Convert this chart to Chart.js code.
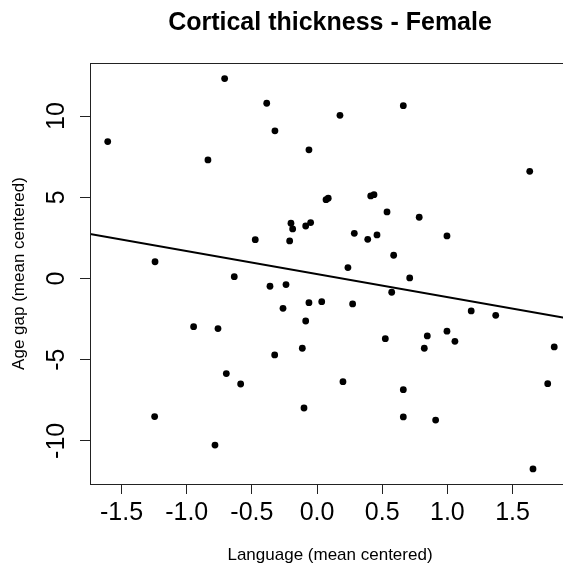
<!DOCTYPE html>
<html>
<head>
<meta charset="utf-8">
<title>Cortical thickness - Female</title>
<script src="https://cdn.jsdelivr.net/npm/chart.js@4.4.1/dist/chart.umd.min.js"></script>
<style>
  html, body { margin: 0; padding: 0; background: #fff; overflow: hidden; }
  #wrap { width: 600px; height: 564px; }
</style>
</head>
<body>
<div id="wrap"><canvas id="chartAge" width="600" height="564"></canvas></div>
<script>
// Language score (mean centered) for each subject
const languageX = [
  -0.709, -0.386, -0.323, -1.606, -0.837, -0.062, -0.200, -0.187, -0.087, -0.049,
  -0.474, -0.210, -1.243, -0.635, 0.662, 0.176, 1.632, 0.069, 0.086, 0.412,
  0.437, 0.537, 0.784, 0.286, 0.389, 0.460, 0.997, 0.588, 0.237, -0.361,
  -0.238, 0.036, -0.062, -0.261, -0.087, -0.947, -0.760, -0.113, -0.325, -0.696,
  -0.586, -0.100, -1.246, -0.783, 0.711, 0.573, 0.273, 1.183, 1.371, 0.524,
  0.846, 0.823, 0.997, 1.058, 1.820, 0.199, 1.770, 0.662, 0.662, 0.910,
  1.657
];
// Brain age gap (mean centered)
const ageGapY = [
  12.31, 10.79, 9.09, 8.43, 7.30, 7.92, 3.40, 3.05, 3.23, 3.44,
  2.39, 2.31, 1.03, 0.11, 10.64, 10.05, 6.60, 4.85, 4.94, 5.08,
  5.16, 4.10, 3.77, 2.78, 2.41, 2.68, 2.62, 1.43, 0.67, -0.48,
  -0.38, -1.43, -1.49, -1.84, -2.62, -2.97, -3.09, -4.30, -4.71, -5.86,
  -6.50, -7.98, -8.51, -10.26, 0.03, -0.85, -1.57, -2.00, -2.27, -3.71,
  -3.54, -4.30, -3.25, -3.87, -4.22, -6.36, -6.48, -6.85, -8.53, -8.72,
  -11.73
];
// fitted regression line, at the two edges of the plot
const fitX = [-1.742, 1.941];
const fitY = [2.74, -2.49];

const xTicks = [-1.5, -1.0, -0.5, 0.0, 0.5, 1.0, 1.5];
const yTicks = [-10, -5, 0, 5, 10];
const xLimits = [-1.742, 1.941];
const yLimits = [-12.66, 13.27];

const fontFamily = '"Liberation Sans", Arial, Helvetica, sans-serif';

const points = languageX.map((x, i) => ({ x: x, y: ageGapY[i] }));
const fitLine = fitX.map((x, i) => ({ x: x, y: fitY[i] }));

// black box around the plotting region (like R's box())
const plotBox = {
  id: 'plotBox',
  afterDraw(chart) {
    const { ctx, chartArea: a } = chart;
    ctx.save();
    ctx.strokeStyle = '#222';
    ctx.lineWidth = 1;
    ctx.strokeRect(a.left + 0.5, a.top + 0.5, a.right - a.left, a.bottom - a.top);
    ctx.restore();
  }
};

new Chart(document.getElementById('chartAge'), {
  type: 'scatter',
  data: {
    datasets: [
      {
        data: points,
        backgroundColor: '#000',
        borderWidth: 0,
        pointRadius: 3.4
      },
      {
        type: 'line',
        data: fitLine,
        borderColor: '#000',
        borderWidth: 2,
        pointRadius: 0,
        fill: false
      }
    ]
  },
  options: {
    responsive: false,
    animation: false,
    events: [],
    layout: { padding: { left: 0, right: 30, top: 0, bottom: 0 } },
    plugins: {
      legend: { display: false },
      tooltip: { enabled: false },
      title: {
        display: true,
        fullSize: false,
        text: 'Cortical thickness - Female',
        color: '#000',
        font: { family: fontFamily, size: 25, weight: 'bold' },
        padding: { top: 8, bottom: 25 }
      }
    },
    scales: {
      x: {
        type: 'linear',
        min: xLimits[0],
        max: xLimits[1],
        afterBuildTicks: s => { s.ticks = xTicks.map(v => ({ value: v })); },
        afterFit: s => { s.height = 80; },
        grid: { display: true, drawOnChartArea: false, drawTicks: true, tickLength: 10, color: '#222', lineWidth: 1 },
        border: { display: false },
        ticks: {
          color: '#000',
          autoSkip: false,
          maxRotation: 0,
          padding: 4,
          font: { family: fontFamily, size: 25 },
          callback: v => v.toFixed(1)
        },
        title: {
          display: true,
          text: 'Language (mean centered)',
          color: '#000',
          font: { family: fontFamily, size: 17, lineHeight: 1 },
          padding: { top: 0, bottom: 0 }
        }
      },
      y: {
        type: 'linear',
        min: yLimits[0],
        max: yLimits[1],
        afterBuildTicks: s => { s.ticks = yTicks.map(v => ({ value: v })); },
        afterFit: s => { s.width = 90; },
        grid: { display: true, drawOnChartArea: false, drawTicks: true, tickLength: 10, color: '#222', lineWidth: 1 },
        border: { display: false },
        ticks: {
          color: '#000',
          minRotation: 90,
          maxRotation: 90,
          crossAlign: 'center',
          padding: 5,
          font: { family: fontFamily, size: 25 },
          callback: v => String(v)
        },
        title: {
          display: true,
          text: 'Age gap (mean centered)',
          color: '#000',
          font: { family: fontFamily, size: 17, lineHeight: 1 },
          padding: { top: 11, bottom: 0 }
        }
      }
    }
  },
  plugins: [plotBox]
});
</script>
</body>
</html>
